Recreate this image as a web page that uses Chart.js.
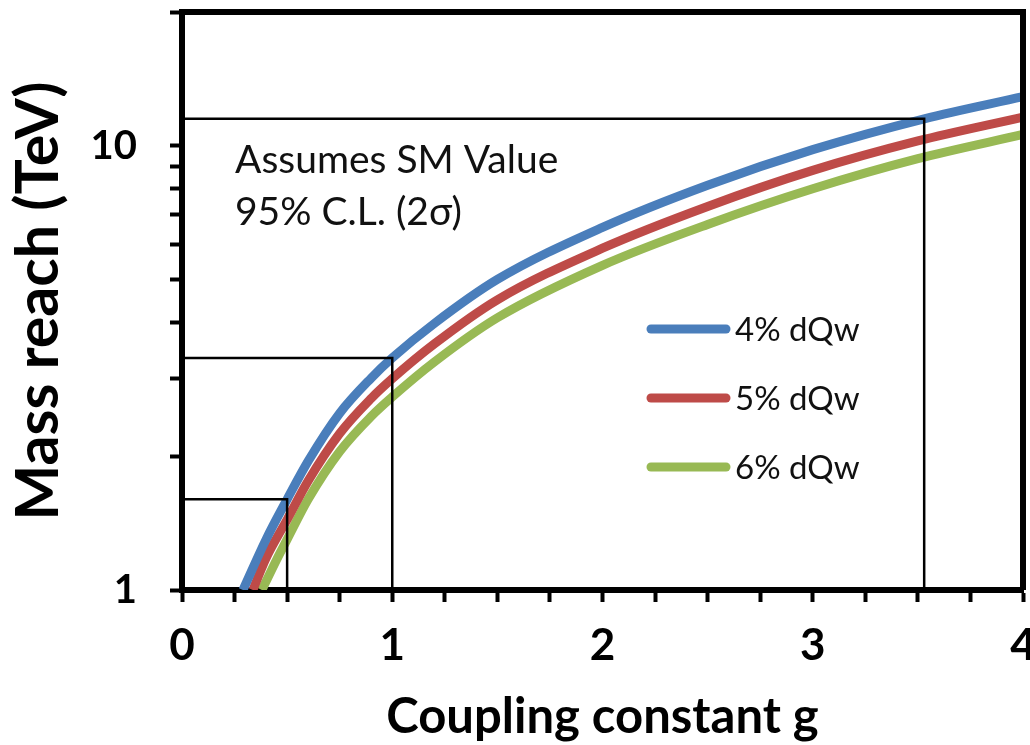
<!DOCTYPE html>
<html>
<head>
<meta charset="utf-8">
<script src="https://cdn.jsdelivr.net/npm/chart.js@4.4.0/dist/chart.umd.min.js"></script>
<style>
  html, body { margin: 0; padding: 0; background: #fff; }
  #wrap { width: 1030px; height: 745px; }
</style>
</head>
<body>
<div id="wrap"><canvas id="reach"></canvas></div>
<script>
// coupling g vs mass reach (TeV)
const gBlue  = [0.29, 0.4, 0.5, 0.6, 0.75, 0.9, 1.0, 1.2, 1.5, 2.0, 2.5, 3.0, 3.53, 4.0];
const mBlue  = [1.0, 1.3, 1.6, 1.95, 2.5, 3.0, 3.33, 3.98, 5.0, 6.55, 8.15, 9.8, 11.5, 12.9];
const gRed   = [0.337, 0.4, 0.5, 0.6, 0.75, 0.9, 1.0, 1.2, 1.5, 2.0, 2.5, 3.0, 3.5, 4.0];
const mRed   = [1.0, 1.18, 1.44, 1.76, 2.25, 2.7, 2.99, 3.58, 4.5, 5.88, 7.3, 8.8, 10.25, 11.6];
const gGreen = [0.38, 0.45, 0.5, 0.6, 0.75, 0.9, 1.0, 1.2, 1.5, 2.0, 2.5, 3.0, 3.5, 4.0];
const mGreen = [1.0, 1.17, 1.3, 1.6, 2.05, 2.46, 2.72, 3.26, 4.1, 5.38, 6.65, 8.0, 9.35, 10.6];

const seriesNames = ['4% dQw', '5% dQw', '6% dQw'];
const seriesColors = ['#4a7ebb', '#be4b48', '#98b954'];

// guide lines: horizontal from the axis to the blue curve, then down
const guideG = [0.5, 1.0, 3.53];
const guideM = [1.6, 3.33, 11.5];

const xTicks = [0, 0.25, 0.5, 0.75, 1, 1.25, 1.5, 1.75, 2, 2.25, 2.5, 2.75, 3, 3.25, 3.5, 3.75, 4];
const yTicks = [1, 2, 3, 4, 5, 6, 7, 8, 9, 10, 20];
const yLabeled = [1, 10];

const noteLines = ['Assumes SM Value', '95% C.L. (2σ)'];

const pts = (xs, ys) => xs.map((x, i) => ({ x: x, y: ys[i] }));

const curves = [[gBlue, mBlue], [gRed, mRed], [gGreen, mGreen]].map((s, i) => ({
    label: seriesNames[i],
    data: pts(s[0], s[1]),
    borderColor: seriesColors[i],
    borderWidth: 9,
    pointRadius: 0,
    showLine: true,
    cubicInterpolationMode: 'monotone',
    order: 1 + i
}));

const guides = guideG.map((g, i) => ({
    label: 'guide' + i,
    data: [{ x: 0, y: guideM[i] }, { x: g, y: guideM[i] }, { x: g, y: 1 }],
    borderColor: '#000',
    borderWidth: 2.5,
    pointRadius: 0,
    showLine: true,
    order: 0
}));

// frame, legend and note
const extras = {
    id: 'extras',
    afterDatasetsDraw(chart) {
        const { ctx, chartArea: a } = chart;
        ctx.save();
        ctx.strokeStyle = '#000';
        ctx.lineWidth = 6;
        ctx.beginPath();
        ctx.moveTo(a.left, a.top);
        ctx.lineTo(a.right, a.top);
        ctx.lineTo(a.right, a.bottom);
        ctx.stroke();

        ctx.fillStyle = '#111';
        ctx.font = '39px Lato';
        ctx.textBaseline = 'alphabetic';
        ctx.fillText(noteLines[0], 235, 173);
        ctx.fillText(noteLines[1], 235, 225);

        ctx.font = '33px Lato';
        ctx.textBaseline = 'middle';
        ctx.lineCap = 'round';
        seriesNames.forEach((name, i) => {
            const y = 329 + i * 69;
            ctx.strokeStyle = seriesColors[i];
            ctx.lineWidth = 9;
            ctx.beginPath();
            ctx.moveTo(651, y);
            ctx.lineTo(726, y);
            ctx.stroke();
            ctx.fillText(name, 735, y + 1);
        });
        ctx.restore();
    }
};

new Chart(document.getElementById('reach'), {
    type: 'scatter',
    data: { datasets: guides.concat(curves) },
    options: {
        responsive: true,
        maintainAspectRatio: false,
        animation: false,
        layout: { padding: { left: 0, right: 7, top: 12, bottom: 0 } },
        plugins: { legend: { display: false }, tooltip: { enabled: false } },
        scales: {
            x: {
                type: 'linear',
                min: 0,
                max: 4,
                afterBuildTicks: (s) => { s.ticks = xTicks.map(v => ({ value: v })); },
                afterFit: (s) => { s.height = 155; s.paddingRight = 0; s.paddingLeft = 0; },
                ticks: {
                    color: '#000',
                    font: { family: 'Lato', size: 44, weight: 'bold' },
                    padding: 17,
                    maxRotation: 0,
                    autoSkip: false,
                    callback: (v) => Number.isInteger(v) ? String(v) : ''
                },
                grid: { drawOnChartArea: false, drawTicks: true, tickLength: 12, tickWidth: 4, tickColor: '#000' },
                border: { display: true, width: 6, color: '#000' },
                title: {
                    display: true,
                    text: 'Coupling constant g',
                    color: '#000',
                    font: { family: 'Lato', size: 49, weight: 'bold' },
                    padding: { top: 0, bottom: -2 }
                }
            },
            y: {
                type: 'logarithmic',
                min: 1,
                max: 20,
                afterBuildTicks: (s) => { s.ticks = yTicks.map(v => ({ value: v })); },
                afterFit: (s) => { s.width = 182; s.paddingTop = 0; s.paddingBottom = 0; },
                ticks: {
                    color: '#000',
                    font: { family: 'Lato', size: 40, weight: 'bold' },
                    padding: 33,
                    autoSkip: false,
                    callback: (v) => yLabeled.includes(v) ? String(v) : ''
                },
                grid: { drawOnChartArea: false, drawTicks: true, tickLength: 12, tickWidth: 4, tickColor: '#000' },
                border: { display: true, width: 6, color: '#000' },
                title: {
                    display: true,
                    text: 'Mass reach (TeV)',
                    color: '#000',
                    font: { family: 'Lato', size: 59, weight: 'bold' },
                    padding: { top: 4, bottom: 0 }
                }
            }
        }
    },
    plugins: [extras]
});
</script>
</body>
</html>
